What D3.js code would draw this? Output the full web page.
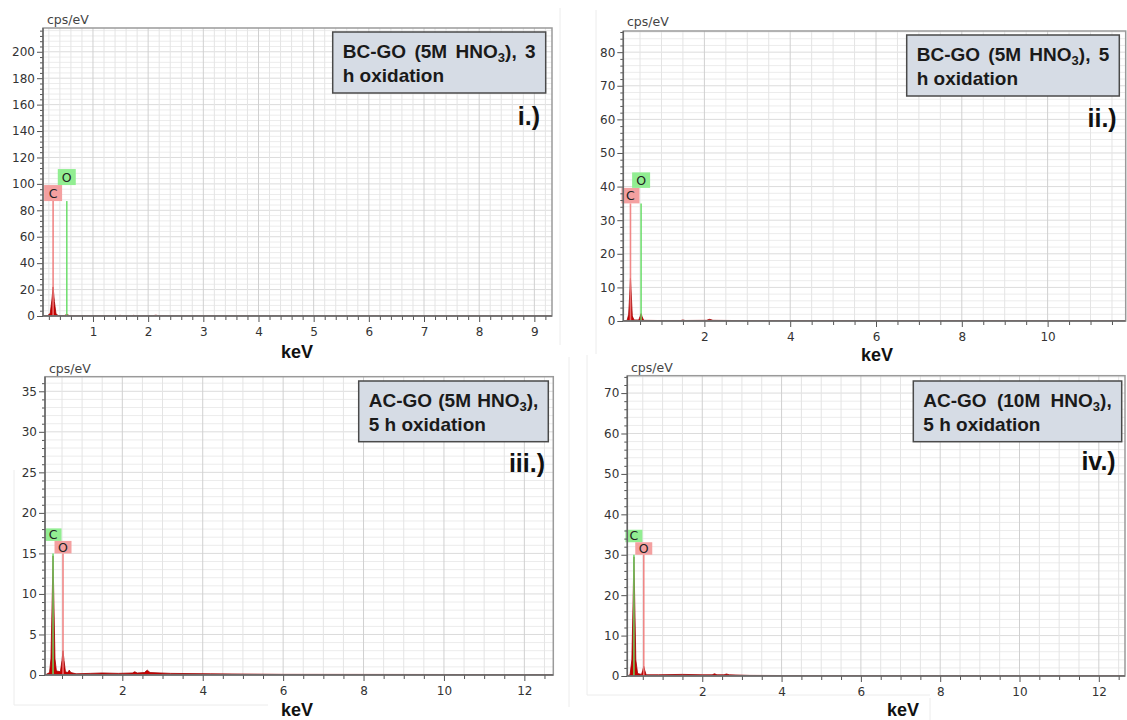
<!DOCTYPE html>
<html>
<head>
<meta charset="utf-8">
<script src="https://cdn.jsdelivr.net/npm/d3@7"></script>
<style>
  body { margin: 0; background: #fff; }
  svg { display: block; }
</style>
</head>
<body>
<svg id="chart" width="1127" height="720"></svg>
<script>
// EDS spectra of four graphene-oxide samples: intensity (cps/eV) against photon energy (keV)

const panelTags = ["i.)", "ii.)", "iii.)", "iv.)"];

// sample captions, {…} marks a subscript
const captionLines = [
  ["BC-GO (5M HNO{3}), 3", "h oxidation"],
  ["BC-GO (5M HNO{3}), 5", "h oxidation"],
  ["AC-GO (5M HNO{3}),", "5 h oxidation"],
  ["AC-GO (10M HNO{3}),", "5 h oxidation"]
];

// element K-lines marked on every spectrum
const lineElements = ["C", "O"];
const lineEnergies = [0.277, 0.525];
// intensity at which the element markers end (cps/eV)
const markerHeights = [87, 35, 15, 30];

// axis ranges [keV] and [cps/eV]
const energyRanges = [[0.094, 9.32], [0.11, 11.82], [0.077, 12.72], [0.11, 12.66]];
const countRanges = [[0, 218], [0, 86.3], [0, 36.8], [0, 74.3]];
const energySteps = [1, 2, 2, 2];
const energyMinorSteps = [0.2, 0.5, 0.5, 0.5];
const countSteps = [20, 10, 5, 10];
const countMinorSteps = [4, 2, 1, 2];

// measured spectra [keV, cps/eV]
const spectrumI = [
  [0.09, 0], [0.18, 0.3], [0.225, 2], [0.255, 12], [0.277, 22], [0.30, 11], [0.33, 1.5],
  [0.37, 0.4], [0.48, 0.3], [0.51, 0.9], [0.525, 1.3], [0.545, 0.8], [0.58, 0.2], [0.8, 0.1],
  [1.44, 0.15], [1.49, 0.5], [1.54, 0.15], [1.70, 0.15], [1.74, 0.5], [1.78, 0.15],
  [2.08, 0.2], [2.14, 0.6], [2.2, 0.2], [3.0, 0.1], [9.35, 0.05]
];
const spectrumII = [
  [0.1, 0], [0.2, 0.2], [0.235, 2], [0.26, 8], [0.277, 12.7], [0.295, 8], [0.32, 1.5],
  [0.36, 0.3], [0.47, 0.3], [0.50, 1.3], [0.525, 2.2], [0.55, 1.2], [0.585, 0.2], [0.9, 0.15],
  [1.45, 0.15], [1.5, 0.3], [1.55, 0.15], [2.05, 0.2], [2.12, 0.5], [2.2, 0.2], [3.0, 0.1],
  [11.9, 0.05]
];
const spectrumIII = [
  [0.08, 0], [0.19, 0.3], [0.225, 2], [0.255, 9], [0.277, 14.7], [0.298, 9], [0.325, 2],
  [0.36, 0.5], [0.46, 0.4], [0.50, 1.8], [0.525, 3.0], [0.55, 1.8], [0.585, 0.4], [0.64, 0.3],
  [0.68, 0.6], [0.72, 0.3], [0.85, 0.15], [1.2, 0.2], [1.5, 0.25], [1.9, 0.2], [2.25, 0.25],
  [2.31, 0.4], [2.37, 0.25], [2.55, 0.3], [2.62, 0.6], [2.69, 0.3], [3.2, 0.2], [4.2, 0.15],
  [6.0, 0.08], [12.8, 0.05]
];
const spectrumIV = [
  [0.1, 0], [0.18, 0.3], [0.225, 4], [0.255, 18], [0.277, 29.5], [0.298, 18], [0.325, 4],
  [0.37, 0.6], [0.47, 0.4], [0.50, 1.4], [0.525, 2.4], [0.55, 1.4], [0.585, 0.3], [0.9, 0.3],
  [1.5, 0.4], [2.0, 0.3], [2.25, 0.3], [2.31, 0.55], [2.37, 0.3], [2.55, 0.3], [2.61, 0.5],
  [2.68, 0.3], [3.2, 0.15], [5.0, 0.08], [12.7, 0.05]
];
const spectra = [spectrumI, spectrumII, spectrumIII, spectrumIV];

// ---- layout and styling ----
const PINK = "#f4a0a0", PINK_LINE = "#f07c7c";
const GREEN = "#92ee92", GREEN_LINE = "#66dd66";

const layouts = [
  { plot: { l: 43, t: 28, r: 552, b: 316 }, caption: { x: 332.7, y: 32, w: 213, h: 61 },
    tag: { x: 540, y: 125 }, kev: { x: 297, y: 358 }, cps: { x: 47, y: 24 },
    markerColors: ["pink", "green"], raised: 1, markerBox: { w: 18, h: 16 } },
  { plot: { l: 623.3, t: 31, r: 1125.7, b: 321 }, caption: { x: 906.7, y: 35, w: 212.6, h: 61 },
    tag: { x: 1116.7, y: 127 }, kev: { x: 877, y: 361 }, cps: { x: 627, y: 26 },
    markerColors: ["pink", "green"], raised: 1, markerBox: { w: 18, h: 15.5 } },
  { plot: { l: 45, t: 376.7, r: 553.3, b: 675 }, caption: { x: 358.7, y: 381, w: 189.6, h: 60.7 },
    tag: { x: 545, y: 471.7 }, kev: { x: 297, y: 716 }, cps: { x: 49, y: 372.5 },
    markerColors: ["green", "pink"], raised: 0, markerBox: { w: 17, h: 12.5 } },
  { plot: { l: 627.3, t: 375.7, r: 1125, b: 676 }, caption: { x: 913.3, y: 381, w: 208.4, h: 60.7 },
    tag: { x: 1115.7, y: 470 }, kev: { x: 903, y: 716 }, cps: { x: 631, y: 371.5 },
    markerColors: ["green", "pink"], raised: 0, markerBox: { w: 17, h: 12.5 } }
];

const svg = d3.select("#chart");

// faint edges of the four screenshot frames
const frameEdges = [
  [560, 8, 560, 345], [596, 10, 596, 354], [14, 470, 14, 705], [14, 705, 268, 705],
  [569, 357, 569, 707], [587, 355, 587, 695], [587, 695, 930, 695], [930, 698, 930, 720]
];
svg.append("g").selectAll("line").data(frameEdges).join("line")
  .attr("x1", d => d[0]).attr("y1", d => d[1]).attr("x2", d => d[2]).attr("y2", d => d[3])
  .attr("stroke", "#ececec").attr("stroke-width", 1);

function multiples(domain, step) {
  const out = [];
  const start = Math.ceil(domain[0] / step - 1e-9);
  for (let k = start; k * step <= domain[1] + 1e-9; k++) out.push(+(k * step).toFixed(4));
  return out;
}

panelTags.forEach((tag, i) => {
  const L = layouts[i], P = L.plot;
  const g = svg.append("g");

  const x = d3.scaleLinear().domain(energyRanges[i]).range([P.l, P.r]);
  const y = d3.scaleLinear().domain(countRanges[i]).range([P.b, P.t]);

  const xMajor = multiples(energyRanges[i], energySteps[i]);
  const xMinor = multiples(energyRanges[i], energyMinorSteps[i]);
  const yMajor = multiples(countRanges[i], countSteps[i]);
  const yMinor = multiples(countRanges[i], countMinorSteps[i]);
  const isMajorX = v => Math.abs(v / energySteps[i] - Math.round(v / energySteps[i])) < 1e-6;
  const isMajorY = v => Math.abs(v / countSteps[i] - Math.round(v / countSteps[i])) < 1e-6;

  // plot background and grid
  g.append("rect").attr("x", P.l).attr("y", P.t).attr("width", P.r - P.l).attr("height", P.b - P.t)
    .attr("fill", "#fff");
  g.append("g").selectAll("line").data(yMinor.filter(v => v > 0)).join("line")
    .attr("x1", P.l).attr("x2", P.r).attr("y1", d => y(d)).attr("y2", d => y(d))
    .attr("stroke", d => isMajorY(d) ? "#dcdcdc" : "#ececec").attr("stroke-width", 1);
  g.append("g").selectAll("line").data(xMinor).join("line")
    .attr("y1", P.t).attr("y2", P.b).attr("x1", d => x(d)).attr("x2", d => x(d))
    .attr("stroke", d => isMajorX(d) ? "#d0d0d0" : "#e4e4e4").attr("stroke-width", 1);

  const clipId = "clip" + i;
  svg.append("clipPath").attr("id", clipId).append("rect")
    .attr("x", P.l).attr("y", P.t).attr("width", P.r - P.l).attr("height", P.b - P.t);

  // spectrum
  const area = d3.area().x(d => x(d[0])).y0(y(0)).y1(d => y(d[1]));
  g.append("path").datum(spectra[i]).attr("d", area).attr("clip-path", `url(#${clipId})`)
    .attr("fill", "#c80000").attr("stroke", "#9a0000").attr("stroke-width", 0.8);

  // element markers
  const top = markerHeights[i];
  const B = L.markerBox;
  lineElements.forEach((el, k) => {
    const col = L.markerColors[k];
    const cx = x(lineEnergies[k]);
    g.append("line").attr("x1", cx).attr("x2", cx).attr("y1", y(top)).attr("y2", y(0))
      .attr("stroke", col === "pink" ? PINK_LINE : GREEN_LINE).attr("stroke-width", 1.6)
      .attr("opacity", 0.9);
    const bottom = y(top) - (k === L.raised ? B.h : 0);
    g.append("rect").attr("x", cx - B.w / 2).attr("y", bottom - B.h).attr("width", B.w).attr("height", B.h)
      .attr("fill", col === "pink" ? PINK : GREEN);
    g.append("text").attr("x", cx).attr("y", bottom - B.h / 2).attr("dy", "0.36em")
      .attr("text-anchor", "middle").attr("font-family", "DejaVu Sans").attr("font-size", 12.5)
      .attr("fill", "#222").text(el);
  });

  // frame
  g.append("rect").attr("x", P.l).attr("y", P.t).attr("width", P.r - P.l).attr("height", P.b - P.t)
    .attr("fill", "none").attr("stroke", "#9a9a9a").attr("stroke-width", 1.5);

  // axes
  const styleAxis = sel => {
    sel.select(".domain").remove();
    sel.selectAll(".tick line").attr("stroke", "#555");
    sel.selectAll(".tick text").attr("font-family", "DejaVu Sans").attr("font-size", 12).attr("fill", "#333");
  };
  g.append("g").attr("transform", `translate(${P.l},0)`)
    .call(d3.axisLeft(y).tickValues(yMinor.filter(v => !isMajorY(v))).tickSize(3).tickFormat(""))
    .call(styleAxis);
  g.append("g").attr("transform", `translate(${P.l},0)`)
    .call(d3.axisLeft(y).tickValues(yMajor).tickSize(6).tickPadding(2).tickFormat(d3.format("d")))
    .call(styleAxis);
  g.append("g").attr("transform", `translate(0,${P.b})`)
    .call(d3.axisBottom(x).tickValues(xMinor.filter(v => !isMajorX(v))).tickSize(4).tickFormat(""))
    .call(styleAxis);
  g.append("g").attr("transform", `translate(0,${P.b})`)
    .call(d3.axisBottom(x).tickValues(xMajor).tickSize(6).tickPadding(5).tickFormat(d3.format("d")))
    .call(styleAxis);
  g.append("line").attr("x1", P.l).attr("x2", P.l).attr("y1", P.t).attr("y2", P.b)
    .attr("stroke", "#666").attr("stroke-width", 1.5);
  g.append("line").attr("x1", P.l).attr("x2", P.r).attr("y1", P.b).attr("y2", P.b)
    .attr("stroke", "#666").attr("stroke-width", 1.5);

  // axis titles
  g.append("text").attr("x", L.cps.x).attr("y", L.cps.y).attr("font-family", "DejaVu Sans")
    .attr("font-size", 12.5).attr("fill", "#444").text("cps/eV");
  g.append("text").attr("x", L.kev.x).attr("y", L.kev.y).attr("text-anchor", "middle")
    .attr("font-family", "Liberation Sans, Arial, sans-serif").attr("font-weight", "bold")
    .attr("font-size", 18).attr("fill", "#111").text("keV");

  // sample caption
  const C = L.caption;
  g.append("rect").attr("x", C.x).attr("y", C.y).attr("width", C.w).attr("height", C.h)
    .attr("fill", "#d6dce5").attr("stroke", "#4a4a4a").attr("stroke-width", 1.5);
  const pad = 10;
  captionLines[i].forEach((line, li) => {
    const t = g.append("text").attr("x", C.x + pad).attr("y", C.y + 26 + li * 23.5)
      .attr("font-family", "Liberation Sans, Arial, sans-serif").attr("font-weight", "bold")
      .attr("font-size", 19).attr("fill", "#1a1a1a");
    const parts = line.split(/(\{[^}]*\})/).filter(s => s.length);
    let shifted = false;
    parts.forEach(p => {
      if (p.startsWith("{")) {
        t.append("tspan").attr("font-size", 13).attr("dy", 4).text(p.slice(1, -1));
        shifted = true;
      } else {
        t.append("tspan").attr("dy", shifted ? -4 : 0).text(p);
        shifted = false;
      }
    });
    if (li === 0) {
      const target = C.w - 2 * pad;
      const len = t.node().getComputedTextLength();
      const spaces = (line.match(/ /g) || []).length;
      if (spaces && len < target) t.attr("word-spacing", (target - len) / spaces);
    }
  });

  // panel tag
  g.append("text").attr("x", L.tag.x).attr("y", L.tag.y).attr("text-anchor", "end")
    .attr("font-family", "Liberation Sans, Arial, sans-serif").attr("font-weight", "bold")
    .attr("font-size", 25).attr("fill", "#111").text(tag);
});
</script>
</body>
</html>
